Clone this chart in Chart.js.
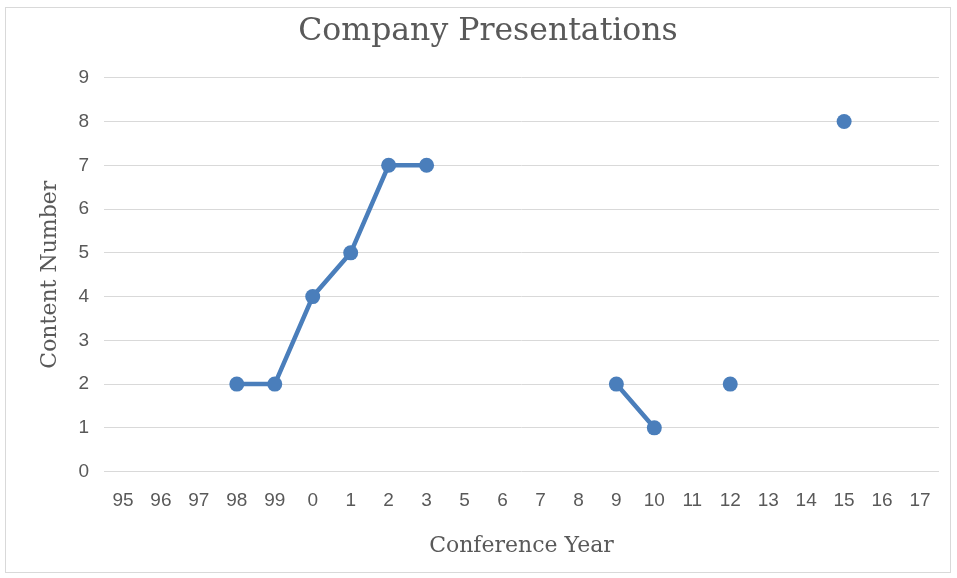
<!DOCTYPE html>
<html>
<head>
<meta charset="utf-8">
<script src="https://cdn.jsdelivr.net/npm/chart.js@4/dist/chart.umd.min.js"></script>
<style>
html,body{margin:0;padding:0;background:#fff;}
#wrap{position:absolute;left:0;top:0;width:957px;height:578px;}
</style>
</head>
<body>
<div id="wrap"><canvas id="c" width="957" height="578"></canvas></div>
<script>
const categories = ['95','96','97','98','99','0','1','2','3','5','6','7','8','9','10','11','12','13','14','15','16','17'];
const contentNumber = [null,null,null,2,2,4,5,7,7,null,null,null,null,2,1,null,2,null,null,8,null,null];
const yTicks = [0,1,2,3,4,5,6,7,8,9];

const borderPlugin = {
  id: 'frame',
  beforeDraw(chart) {
    const ctx = chart.ctx;
    ctx.save();
    ctx.fillStyle = '#fff';
    ctx.fillRect(0,0,chart.width,chart.height);
    ctx.strokeStyle = '#d9d9d9';
    ctx.lineWidth = 1;
    ctx.strokeRect(5.5, 7.5, 945, 565);
    ctx.restore();
  }
};

const grey = '#595959';
new Chart(document.getElementById('c'), {
  type: 'line',
  data: {
    labels: categories,
    datasets: [{
      label: 'Content Number',
      data: contentNumber,
      borderColor: '#4a7ebb',
      backgroundColor: '#4a7ebb',
      borderWidth: 4.5,
      pointRadius: 7.5,
      pointHoverRadius: 7.5,
      pointBorderWidth: 0,
      spanGaps: false,
      tension: 0
    }]
  },
  options: {
    responsive: false,
    animation: false,
    devicePixelRatio: 1,
    layout: { padding: { left: 37, right: 18, top: 9, bottom: 19 } },
    plugins: {
      legend: { display: false },
      tooltip: { enabled: false },
      title: {
        display: true,
        text: 'Company Presentations',
        color: grey,
        font: { family: 'DejaVu Serif', size: 31.5, weight: 'normal' },
        padding: { top: 4, bottom: 27 }
      }
    },
    scales: {
      x: {
        type: 'category',
        offset: true,
        grid: { display: false, drawTicks: false },
        border: { display: false },
        ticks: { color: grey, font: { family: 'Liberation Sans', size: 19 }, padding: 17.6, maxRotation: 0, autoSkip: false },
        title: { display: true, text: 'Conference Year', color: grey, font: { family: 'DejaVu Serif', size: 22 }, padding: { top: 3, bottom: 0 } }
      },
      y: {
        min: 0, max: 9,
        afterBuildTicks(axis) { axis.ticks = yTicks.map(v => ({ value: v })); },
        grid: { color: '#d9d9d9', lineWidth: 1, drawTicks: false },
        border: { display: false },
        ticks: { color: grey, font: { family: 'Liberation Sans', size: 19 }, padding: 15 },
        title: { display: true, text: 'Content Number', color: grey, font: { family: 'DejaVu Serif', size: 22 }, padding: { top: 0, bottom: 0 } }
      }
    }
  },
  plugins: [borderPlugin]
});
</script>
</body>
</html>
